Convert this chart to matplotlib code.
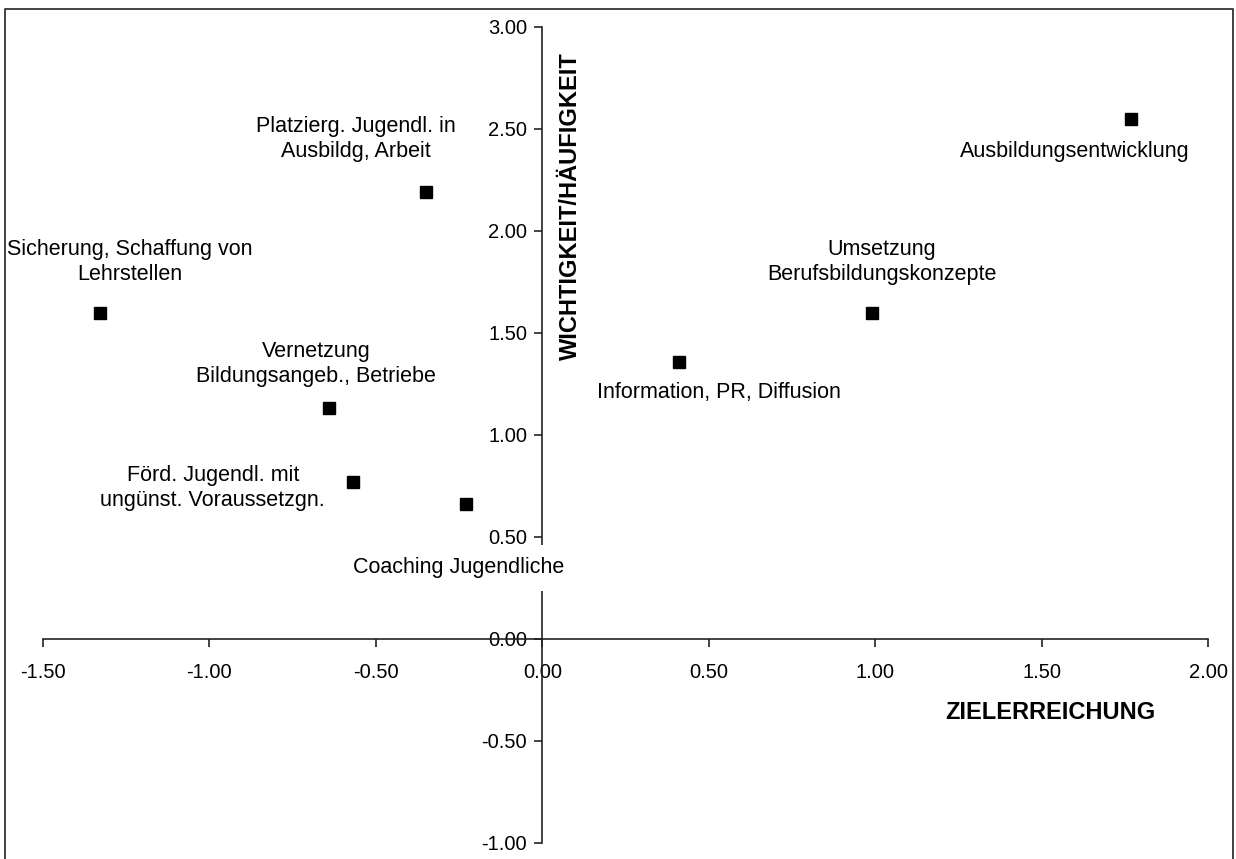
import matplotlib
matplotlib.use("Agg")
from matplotlib import pyplot as plt
from matplotlib.lines import Line2D

plt.rcParams['font.family'] = ['Liberation Sans', 'DejaVu Sans']

# data
labels = ["Sicherung, Schaffung von\nLehrstellen",
          "Platzierg. Jugendl. in\nAusbildg, Arbeit",
          "Vernetzung\nBildungsangeb., Betriebe",
          "Förd. Jugendl. mit\nungünst. Voraussetzgn.",
          "Coaching Jugendliche",
          "Information, PR, Diffusion",
          "Umsetzung\nBerufsbildungskonzepte",
          "Ausbildungsentwicklung"]
zielerreichung = [-1.33, -0.35, -0.64, -0.57, -0.23, 0.41, 0.99, 1.77]
wichtigkeit = [1.60, 2.19, 1.13, 0.77, 0.66, 1.36, 1.60, 2.55]

# label offsets (data units) from each point
label_dx = [0.09, -0.21, -0.04, -0.42, -0.02, 0.12, 0.03, -0.17]
label_dy = [0.25, 0.26, 0.22, -0.03, -0.31, -0.15, 0.25, -0.16]

xticks = [-1.5, -1.0, -0.5, 0.0, 0.5, 1.0, 1.5, 2.0]
yticks = [-1.0, -0.5, 0.0, 0.5, 1.0, 1.5, 2.0, 2.5, 3.0]

fig = plt.figure(figsize=(12.36, 8.59), dpi=100)
ax = fig.add_axes([43 / 1236, 16 / 859, 1165 / 1236, 816 / 859])

ax.plot(zielerreichung, wichtigkeit, 's', color='black', markersize=8, zorder=4)

for x, y, lab, dx, dy in zip(zielerreichung, wichtigkeit, labels, label_dx, label_dy):
    box = None
    if lab.startswith("Coaching"):
        box = dict(facecolor='white', edgecolor='none', pad=9)
    ax.text(x + dx, y + dy, lab, ha='center', va='center', fontsize=15.5,
            linespacing=1.25, bbox=box, zorder=5)

ax.set_xlim(-1.5, 2.0)
ax.set_ylim(-1.0, 3.0)
ax.spines['left'].set_position(('data', 0))
ax.spines['bottom'].set_position(('data', 0))
ax.spines['top'].set_visible(False)
ax.spines['right'].set_visible(False)
for s in ['left', 'bottom']:
    ax.spines[s].set_linewidth(1.2)
    ax.spines[s].set_color('#222222')
ax.set_xticks(xticks)
ax.set_yticks(yticks)
ax.set_xticklabels(["%.2f" % v for v in xticks])
ax.set_yticklabels(["%.2f" % v for v in yticks])
ax.tick_params(axis='both', direction='out', length=6, width=1.2,
               color='#222222', labelsize=14.5)
ax.tick_params(axis='x', pad=11)
ax.tick_params(axis='y', pad=5)
for t in ax.get_yticklabels():
    t.set_zorder(6)

ax.text(0.084, 2.12, "WICHTIGKEIT/HÄUFIGKEIT", rotation=90, ha='center',
        va='center', fontsize=17, fontweight='bold')
ax.text(1.526, -0.358, "ZIELERREICHUNG", ha='center', va='center',
        fontsize=17, fontweight='bold')

# outer chart border (bottom edge is cut off in the original)
bx = [5 / 1236, 5 / 1236, 1233 / 1236, 1233 / 1236]
by = [0.0, 1 - 9 / 859, 1 - 9 / 859, 0.0]
fig.add_artist(Line2D(bx, by, color='#333333', linewidth=1.3,
                      transform=fig.transFigure))

fig.savefig("out.png", dpi=100)
